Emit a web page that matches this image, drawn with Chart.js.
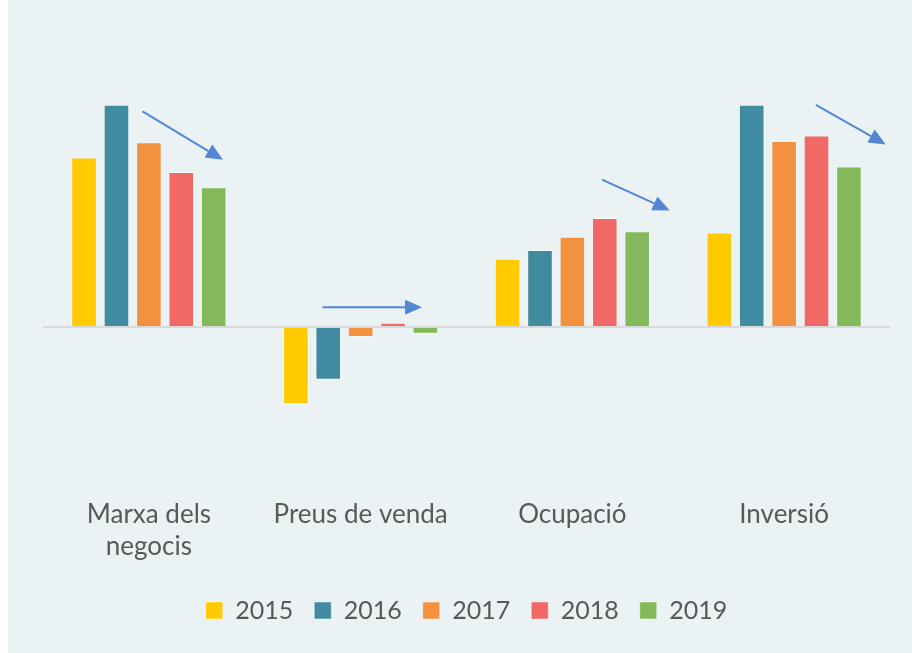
<!DOCTYPE html>
<html>
<head>
<meta charset="utf-8">
<script src="https://cdn.jsdelivr.net/npm/chart.js@4.4.0/dist/chart.umd.min.js"></script>
<style>
  html, body { margin: 0; padding: 0; background: #ffffff; }
  #wrap { width: 912px; height: 653px; }
</style>
</head>
<body>
<div id="wrap"><canvas id="myChart" width="912" height="653"></canvas></div>
<script>
// categories and series
const categories = [["Marxa dels", "negocis"], "Preus de venda", "Ocupació", "Inversió"];
const years = ["2015", "2016", "2017", "2018", "2019"];
const v2015 = [77, -35, 31, 43];
const v2016 = [101, -24, 35, 101];
const v2017 = [84, -4.5, 41, 84.5];
const v2018 = [70.5, 2, 49.5, 87];
const v2019 = [63.5, -3, 43.5, 73];
const colors = ["#FFCA00", "#418BA1", "#F29240", "#F06966", "#84B95B"];

// trend arrows: [category index from, value from, category index to, value to]
const arrows = [
  [-0.03, 98, 0.35, 76],
  [0.82, 9, 1.29, 9],
  [2.14, 67, 2.46, 53],
  [3.15, 101, 3.48, 83],
];

const series = [v2015, v2016, v2017, v2018, v2019];

// background (white strip on the left)
const bgPlugin = {
  id: "bg",
  beforeDraw(chart) {
    const c = chart.ctx;
    c.save();
    c.fillStyle = "#EAF2F4";
    c.fillRect(8, 0, chart.width - 8, chart.height);
    c.restore();
  },
};

// arrows drawn through the scales
const arrowPlugin = {
  id: "arrows",
  afterDatasetsDraw(chart) {
    const c = chart.ctx;
    const xs = chart.scales.x;
    const ys = chart.scales.y;
    const x0 = xs.getPixelForValue(0);
    const step = xs.getPixelForValue(1) - x0;
    c.save();
    c.strokeStyle = "#5486D4";
    c.fillStyle = "#5486D4";
    c.lineWidth = 2;
    arrows.forEach(function (a) {
      const ax = x0 + a[0] * step;
      const ay = ys.getPixelForValue(a[1]);
      const bx = x0 + a[2] * step;
      const by = ys.getPixelForValue(a[3]);
      const ang = Math.atan2(by - ay, bx - ax);
      const len = 17, half = 7.5;
      const hx = bx - len * Math.cos(ang);
      const hy = by - len * Math.sin(ang);
      c.beginPath();
      c.moveTo(ax, ay);
      c.lineTo(hx, hy);
      c.stroke();
      c.beginPath();
      c.moveTo(bx, by);
      c.lineTo(hx + half * Math.sin(ang), hy - half * Math.cos(ang));
      c.lineTo(hx - half * Math.sin(ang), hy + half * Math.cos(ang));
      c.closePath();
      c.fill();
    });
    c.restore();
  },
};

Chart.defaults.font.family = "Lato, 'Open Sans', sans-serif";
Chart.defaults.color = "#595959";

const ctx = document.getElementById("myChart").getContext("2d");
const myChart = new Chart(ctx, {
  type: "bar",
  data: {
    labels: categories,
    datasets: years.map(function (y, i) {
      return {
        label: y,
        data: series[i],
        backgroundColor: colors[i],
        borderColor: "rgba(255, 255, 255, 0.45)",
        borderWidth: 1,
        categoryPercentage: 0.765,
        barPercentage: 0.79,
      };
    }),
  },
  options: {
    responsive: false,
    animation: false,
    layout: {
      padding: { left: 43, right: 22, top: 63, bottom: 20 },
    },
    scales: {
      x: {
        grid: { display: false, drawTicks: false },
        border: { display: false },
        ticks: {
          padding: 40,
          maxRotation: 0,
          font: { size: 26, lineHeight: 1.23 },
          color: "#595959",
        },
        // labels sit closer to the legend than Chart.js would put them
        afterFit: function (scale) {
          scale.height = scale.height - 26;
        },
      },
      y: {
        min: -60,
        max: 120,
        border: { display: false },
        ticks: { display: false, stepSize: 20 },
        grid: {
          drawTicks: false,
          lineWidth: 2,
          color: function (c) {
            return c.tick && c.tick.value === 0 ? "#D9D9D9" : "rgba(0,0,0,0)";
          },
        },
      },
    },
    plugins: {
      legend: {
        position: "bottom",
        labels: {
          boxWidth: 17,
          boxHeight: 17,
          padding: 21,
          font: { size: 25 },
          color: "#595959",
        },
      },
      tooltip: { enabled: false },
    },
  },
  plugins: [bgPlugin, arrowPlugin],
});
</script>
</body>
</html>
